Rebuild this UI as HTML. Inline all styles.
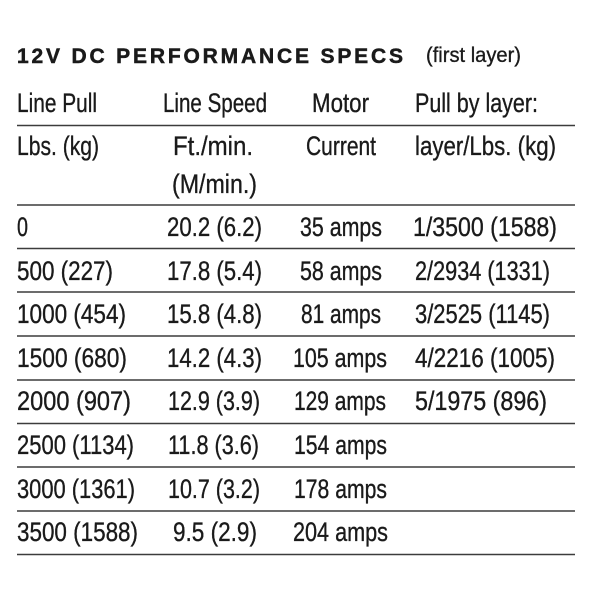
<!DOCTYPE html>
<html><head><meta charset="utf-8"><style>
html,body{margin:0;padding:0;background:#fff;}
svg{display:block;}
text{font-family:"Liberation Sans",sans-serif;fill:#1a1a1a;font-size:27px;stroke:#1a1a1a;stroke-width:0.35;}
.t{font-weight:bold;font-size:21px;stroke-width:0.5;}
</style></head><body>
<svg width="600" height="600" viewBox="0 0 600 600" xmlns="http://www.w3.org/2000/svg">
<rect width="600" height="600" fill="#fff"/>
<text class="t" x="17" y="63" textLength="386" lengthAdjust="spacing">12V DC PERFORMANCE SPECS</text>
<text x="426" y="62" style="font-size:21px" textLength="95" lengthAdjust="spacingAndGlyphs">(first layer)</text>

<g stroke="#3c3c3c" stroke-width="1.6">
<line x1="17" y1="125.5" x2="575" y2="125.5"/>
<line x1="17" y1="205" x2="575" y2="205"/>
<line x1="17" y1="248.5" x2="575" y2="248.5"/>
<line x1="17" y1="292" x2="575" y2="292"/>
<line x1="17" y1="336" x2="575" y2="336"/>
<line x1="17" y1="380" x2="575" y2="380"/>
<line x1="17" y1="423.5" x2="575" y2="423.5"/>
<line x1="17" y1="467" x2="575" y2="467"/>
<line x1="17" y1="511" x2="575" y2="511"/>
<line x1="17" y1="554.5" x2="575" y2="554.5"/>
</g>

<text x="17" y="112" textLength="80" lengthAdjust="spacingAndGlyphs">Line Pull</text>
<text x="163" y="112" textLength="104" lengthAdjust="spacingAndGlyphs">Line Speed</text>
<text x="312" y="112" textLength="57" lengthAdjust="spacingAndGlyphs">Motor</text>
<text x="415" y="112" textLength="123" lengthAdjust="spacingAndGlyphs">Pull by layer:</text>

<text x="17" y="155" textLength="82" lengthAdjust="spacingAndGlyphs">Lbs. (kg)</text>
<text x="173" y="155" textLength="80" lengthAdjust="spacingAndGlyphs">Ft./min.</text>
<text x="306" y="155" textLength="70" lengthAdjust="spacingAndGlyphs">Current</text>
<text x="415" y="155" textLength="141" lengthAdjust="spacingAndGlyphs">layer/Lbs. (kg)</text>
<text x="172" y="193" textLength="85" lengthAdjust="spacingAndGlyphs">(M/min.)</text>

<!-- rows -->
<text x="17" y="236" textLength="11" lengthAdjust="spacingAndGlyphs">0</text>
<text x="167" y="236" textLength="95" lengthAdjust="spacingAndGlyphs">20.2 (6.2)</text>
<text x="300" y="236" textLength="82" lengthAdjust="spacingAndGlyphs">35 amps</text>
<text x="413" y="236" textLength="144" lengthAdjust="spacingAndGlyphs">1/3500 (1588)</text>

<text x="17" y="280" textLength="96" lengthAdjust="spacingAndGlyphs">500 (227)</text>
<text x="167" y="280" textLength="95" lengthAdjust="spacingAndGlyphs">17.8 (5.4)</text>
<text x="300" y="280" textLength="82" lengthAdjust="spacingAndGlyphs">58 amps</text>
<text x="415" y="280" textLength="135" lengthAdjust="spacingAndGlyphs">2/2934 (1331)</text>

<text x="17" y="323" textLength="109" lengthAdjust="spacingAndGlyphs">1000 (454)</text>
<text x="167" y="323" textLength="95" lengthAdjust="spacingAndGlyphs">15.8 (4.8)</text>
<text x="301" y="323" textLength="80" lengthAdjust="spacingAndGlyphs">81 amps</text>
<text x="415" y="323" textLength="135" lengthAdjust="spacingAndGlyphs">3/2525 (1145)</text>

<text x="17" y="367" textLength="110" lengthAdjust="spacingAndGlyphs">1500 (680)</text>
<text x="167" y="367" textLength="95" lengthAdjust="spacingAndGlyphs">14.2 (4.3)</text>
<text x="293" y="367" textLength="94" lengthAdjust="spacingAndGlyphs">105 amps</text>
<text x="415" y="367" textLength="140" lengthAdjust="spacingAndGlyphs">4/2216 (1005)</text>

<text x="17" y="410" textLength="114" lengthAdjust="spacingAndGlyphs">2000 (907)</text>
<text x="168" y="410" textLength="92" lengthAdjust="spacingAndGlyphs">12.9 (3.9)</text>
<text x="294" y="410" textLength="92" lengthAdjust="spacingAndGlyphs">129 amps</text>
<text x="415" y="410" textLength="132" lengthAdjust="spacingAndGlyphs">5/1975 (896)</text>

<text x="17" y="454" textLength="117" lengthAdjust="spacingAndGlyphs">2500 (1134)</text>
<text x="168" y="454" textLength="91" lengthAdjust="spacingAndGlyphs">11.8 (3.6)</text>
<text x="294" y="454" textLength="93" lengthAdjust="spacingAndGlyphs">154 amps</text>

<text x="17" y="498" textLength="118" lengthAdjust="spacingAndGlyphs">3000 (1361)</text>
<text x="168" y="498" textLength="92" lengthAdjust="spacingAndGlyphs">10.7 (3.2)</text>
<text x="294" y="498" textLength="93" lengthAdjust="spacingAndGlyphs">178 amps</text>

<text x="17" y="541" textLength="121" lengthAdjust="spacingAndGlyphs">3500 (1588)</text>
<text x="173" y="541" textLength="84" lengthAdjust="spacingAndGlyphs">9.5 (2.9)</text>
<text x="293" y="541" textLength="95" lengthAdjust="spacingAndGlyphs">204 amps</text>
</svg>
</body></html>
